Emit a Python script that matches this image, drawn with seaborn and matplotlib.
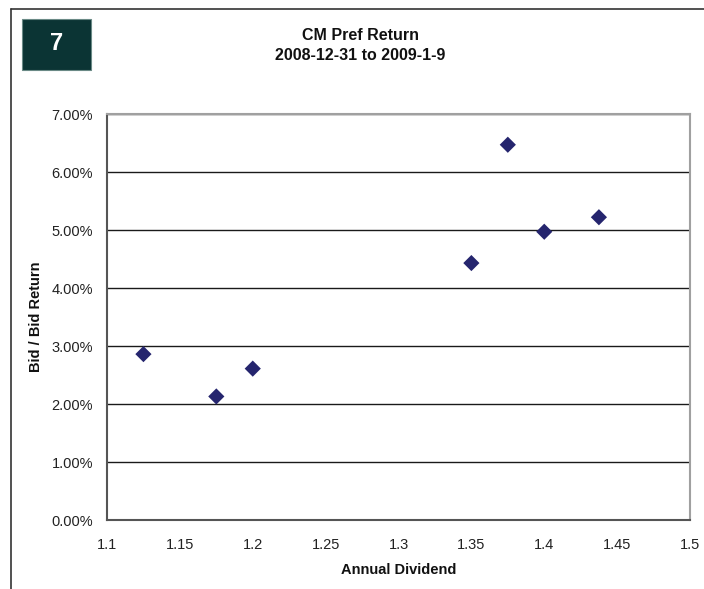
import matplotlib
matplotlib.use("Agg")
import matplotlib.pyplot as plt
from matplotlib.patches import Rectangle
from matplotlib.lines import Line2D
from matplotlib.ticker import FuncFormatter, MultipleLocator
import seaborn as sns
import pandas as pd

# Annual dividend ($) vs. bid-to-bid return (%) for CM preferreds
annual_dividend = [1.125, 1.175, 1.2, 1.35, 1.375, 1.4, 1.4375]
bid_return_pct = [2.86, 2.13, 2.61, 4.43, 6.47, 4.97, 5.22]

title_lines = ["CM Pref Return", "2008-12-31 to 2009-1-9"]
x_label = "Annual Dividend"
y_label = "Bid / Bid Return"
badge = "7"

df = pd.DataFrame({"dividend": annual_dividend, "ret": bid_return_pct})

sns.set_style("white")
plt.rcParams["font.family"] = ["Liberation Sans", "DejaVu Sans"]

W, H = 704, 589
fig = plt.figure(figsize=(W / 100, H / 100), dpi=100)
fig.patch.set_facecolor("white")

# plot area in pixel coordinates
left, right, top, bottom = 107, 690, 114, 520
ax = fig.add_axes([left / W, 1 - bottom / H, (right - left) / W, (bottom - top) / H])

sns.scatterplot(data=df, x="dividend", y="ret", ax=ax, marker="D", s=68,
                color="#25256e", edgecolor="none", zorder=3)

ax.set_xlim(1.1, 1.5)
ax.set_ylim(0, 7)
ax.xaxis.set_major_locator(MultipleLocator(0.05))
ax.yaxis.set_major_locator(MultipleLocator(1))
ax.xaxis.set_major_formatter(FuncFormatter(lambda v, p: f"{v:.2f}".rstrip("0").rstrip(".") if v else "0"))
ax.yaxis.set_major_formatter(FuncFormatter(lambda v, p: f"{v:.2f}%"))

# horizontal gridlines
ax.yaxis.grid(True, color="#1a1a1a", linewidth=1.0)
ax.xaxis.grid(False)
ax.set_axisbelow(True)

for side in ("top", "right"):
    ax.spines[side].set_color("#a0a0a0")
    ax.spines[side].set_linewidth(1.5)
for side in ("left", "bottom"):
    ax.spines[side].set_color("#555555")
    ax.spines[side].set_linewidth(1.5)

ax.tick_params(axis="both", which="major", direction="out", length=5, width=1.2,
               color="#555555", labelsize=10.5, labelcolor="#222222")
ax.tick_params(axis="x", pad=8)
ax.tick_params(axis="y", pad=5)

ax.set_xlabel(x_label, fontsize=10.5, fontweight="bold", color="#111111", labelpad=8)
ax.set_ylabel(y_label, fontsize=10.5, fontweight="bold", color="#111111", labelpad=6)

# two-line title
fig.text(360 / W, 1 - 36 / H, title_lines[0], ha="center", va="center",
         fontsize=11.5, fontweight="bold", color="#111111")
fig.text(360 / W, 1 - 55 / H, title_lines[1], ha="center", va="center",
         fontsize=11.5, fontweight="bold", color="#111111")

# numbered badge
fig.patches.append(Rectangle((22 / W, 1 - 70 / H), 69 / W, 51 / H,
                             transform=fig.transFigure, facecolor="#0b3434",
                             edgecolor="#6a8a86", linewidth=0.8))
fig.text(56.5 / W, 1 - 44 / H, badge, ha="center", va="center",
         fontsize=17, fontweight="bold", color="white")

# outer frame lines
fig.lines.append(Line2D([11 / W, 11 / W], [0, 1 - 9 / H], transform=fig.transFigure,
                        color="#333333", linewidth=1.2))
fig.lines.append(Line2D([11 / W, 1], [1 - 9 / H, 1 - 9 / H], transform=fig.transFigure,
                        color="#333333", linewidth=1.2))

fig.savefig("out.png", dpi=100)
